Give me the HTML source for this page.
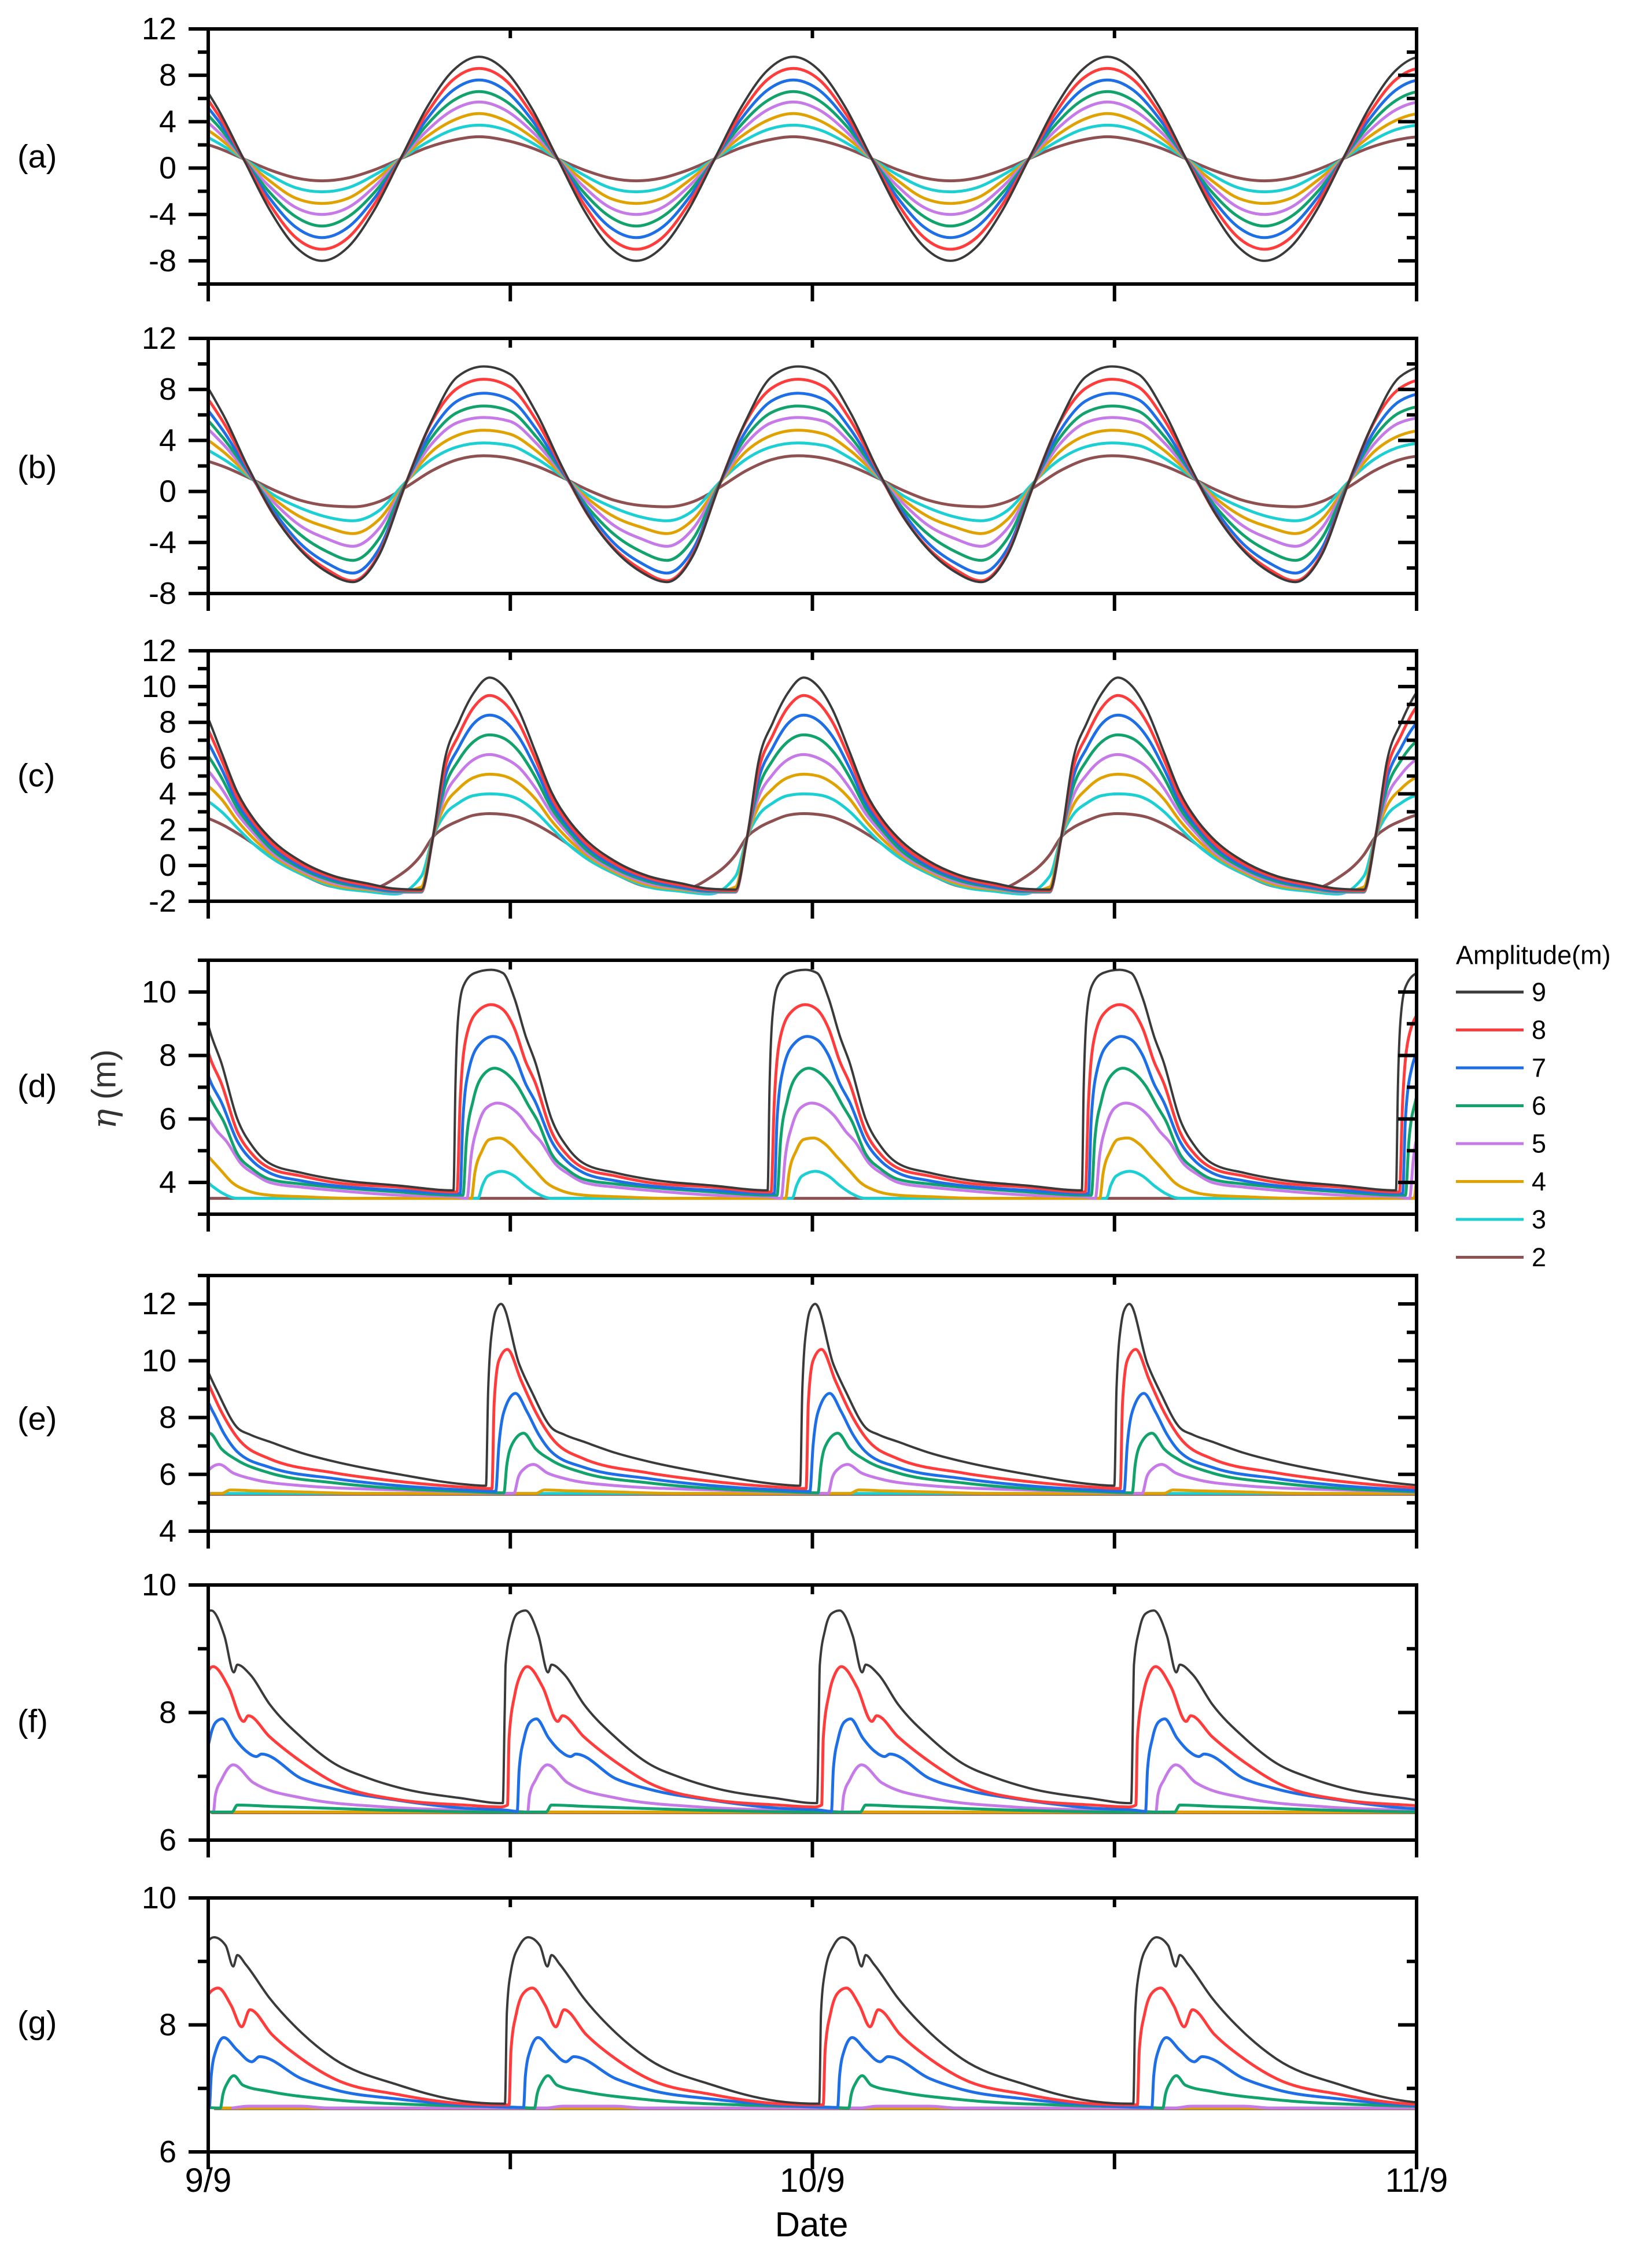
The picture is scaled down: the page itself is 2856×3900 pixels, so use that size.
<!DOCTYPE html>
<html><head><meta charset="utf-8">
<style>
html,body{margin:0;padding:0;background:#fff;}
svg{display:block;font-family:"Liberation Sans",Arial,sans-serif;}
</style></head>
<body>
<svg id="fig" xmlns="http://www.w3.org/2000/svg" width="2856" height="3900" viewBox="0 0 2856 3900">
<rect width="2856" height="3900" fill="#fff"/>
</svg>
<script>
// ---- shared data ----
const seriesNames = ["9","8","7","6","5","4","3","2"];
const seriesColors = ["#3a3a3a","#ff3c3c","#1e6fe6","#12a36c","#c57ae8","#e0a200","#1ccfd2","#8e5050"];
const xTickLabels = ["9/9","","10/9","","11/9"];
const xTickDays = [0,15,30,45,60];
const cycleDays = 15.6;
// anchor (day of first black-curve peak) per panel
const panelAnchors = [13.45,13.68,13.97,14.05,14.54,15.75,15.89];

// ---- panel (a) ----
const aPhase = [0,8.33,16.67,25,33.33,41.67,50,58.33,66.67,75,83.33,91.67];
const aValues = [
 [9.6,8.4,5.2,0.8,-3.6,-6.8,-8.0,-6.8,-3.6,0.8,5.2,8.4],
 [8.6,7.6,4.7,0.8,-3.1,-6.0,-7.0,-6.0,-3.1,0.8,4.7,7.6],
 [7.6,6.7,4.2,0.8,-2.6,-5.1,-6.0,-5.1,-2.6,0.8,4.2,6.7],
 [6.6,5.8,3.7,0.8,-2.1,-4.2,-5.0,-4.2,-2.1,0.8,3.7,5.8],
 [5.7,5.0,3.2,0.8,-1.6,-3.4,-4.0,-3.4,-1.6,0.8,3.2,5.0],
 [4.7,4.1,2.7,0.8,-1.1,-2.6,-3.05,-2.6,-1.1,0.8,2.7,4.1],
 [3.7,3.3,2.2,0.8,-0.6,-1.7,-2.05,-1.7,-0.6,0.8,2.2,3.3],
 [2.7,2.4,1.75,0.8,-0.15,-0.85,-1.1,-0.85,-0.15,0.8,1.75,2.4]
];
// ---- panel (b) ----
const bPhase = [0,8.33,16.67,25,33.33,41.67,50,58.33,66.67,75,83.33,91.67];
const bValues = [
 [9.8,9.2,6.2,1.9,-1.9,-4.6,-6.3,-7.1,-5.0,0.5,5.5,9.0],
 [8.8,8.2,5.6,1.8,-1.9,-4.5,-6.1,-7.0,-4.9,0.5,5.4,8.1],
 [7.7,7.2,4.9,1.6,-1.6,-4.1,-5.6,-6.4,-4.5,0.5,4.7,7.1],
 [6.7,6.3,4.3,1.5,-1.3,-3.4,-4.7,-5.4,-3.7,0.6,4.2,6.2],
 [5.8,5.5,3.8,1.4,-0.9,-2.7,-3.7,-4.3,-2.9,0.6,3.7,5.4],
 [4.8,4.5,3.2,1.3,-0.6,-2.0,-2.8,-3.3,-2.2,0.6,3.1,4.4],
 [3.8,3.6,2.6,1.2,-0.3,-1.3,-2.0,-2.3,-1.5,0.7,2.5,3.5],
 [2.8,2.6,2.0,1.1,0.1,-0.7,-1.1,-1.2,-0.8,0.3,1.6,2.5]
];
// ---- panel (c) ----
const cPhase = [0,4.6,9.2,14.7,19.7,24.9,30.0,40.3,50.6,61.0,70.0,78.3,82.0,85.6,90.2,94.8];
const cValues = [
 [10.5,10.0,8.7,6.3,4.1,2.6,1.55,0.2,-0.6,-1.0,-1.3,-1.35,1.6,5.8,8.0,9.6],
 [9.5,9.1,8.0,5.9,3.8,2.4,1.35,0.05,-0.7,-1.1,-1.35,-1.4,1.6,5.3,7.3,8.8],
 [8.4,8.1,7.2,5.4,3.5,2.2,1.2,-0.1,-0.8,-1.2,-1.4,-1.4,1.6,4.8,6.6,7.9],
 [7.3,7.1,6.4,4.9,3.2,2.0,1.0,-0.2,-0.9,-1.25,-1.45,-1.45,1.6,4.3,5.9,6.9],
 [6.2,6.0,5.5,4.3,2.9,1.8,0.85,-0.3,-1.0,-1.3,-1.5,-1.5,1.6,3.8,5.1,5.9],
 [5.1,5.0,4.6,3.7,2.5,1.5,0.7,-0.4,-1.1,-1.35,-1.5,-1.2,1.6,3.3,4.3,4.9],
 [4.0,3.95,3.7,3.0,2.1,1.2,0.5,-0.5,-1.2,-1.45,-1.6,-0.6,1.6,2.8,3.5,3.9],
 [2.9,2.85,2.7,2.3,1.8,1.2,0.5,-0.5,-1.2,-1.35,-0.7,0.6,1.6,2.1,2.5,2.8]
];
// ---- panel (d) ----
const dPhases = [
 [0,3.7,7.4,11.0,14.0,19.2,24.3,29.5,39.8,50.1,70.7,88.0,88.6,89.5,91.2,94.8],
 [0,3.7,7.4,11.0,14.0,19.2,24.3,29.5,39.8,50.1,70.7,88.0,89.1,90.1,92.1,95.8],
 [0.6,3.7,7.4,11.0,14.0,19.2,24.3,29.5,39.8,50.1,70.7,88.0,90.1,91.0,93.0,96.7],
 [1.1,4.6,8.3,12.0,14.7,19.2,24.3,29.5,39.8,50.1,70.7,88.0,91.0,92.1,94.3,97.6],
 [2.0,5.5,9.2,12.9,15.7,20.3,24.9,29.5,39.8,50.1,70.7,88.0,92.3,93.6,95.8,98.5],
 [2.6,6.4,10.1,13.8,17.5,22.1,29.5,39.8,55.2,93.7,94.8,97.1,99.4],
 [3.3,7.4,11.0,14.7,19.2,95.8,97.2,98.9],
 [0,50]
];
const dValues = [
 [10.7,10.6,9.8,8.6,7.8,6.0,5.1,4.6,4.3,4.1,3.9,3.75,7.0,9.2,10.2,10.6],
 [9.6,9.45,8.85,7.8,7.15,5.6,4.85,4.45,4.2,4.0,3.85,3.7,3.7,6.5,8.6,9.4],
 [8.6,8.5,8.0,7.1,6.55,5.3,4.65,4.3,4.05,3.9,3.75,3.65,3.65,6.0,7.6,8.4],
 [7.6,7.45,7.05,6.4,5.95,4.9,4.4,4.1,3.95,3.85,3.7,3.6,3.6,5.3,6.6,7.4],
 [6.5,6.4,6.1,5.6,5.3,4.6,4.25,4.0,3.85,3.75,3.6,3.55,3.5,4.8,5.8,6.35],
 [5.4,5.2,4.8,4.4,4.0,3.75,3.6,3.55,3.5,3.5,4.3,5.0,5.35],
 [4.35,4.2,3.9,3.65,3.5,3.5,3.9,4.2],
 [3.5,3.5]
];
// ---- panel (e) ----
const ePhases = [
 [-4.8,-4.1,-2.6,-1.1,0,5.7,9.8,16.0,20.1,26.3,36.6,47.0,67.6,88.4],
 [-2.9,-2.2,-0.7,2.0,6.4,11.0,16.0,26.3,47.0,67.6,88.4],
 [-1.7,-0.7,0.9,4.6,8.3,12.0,16.0,26.3,47.0,67.6,88.4],
 [0.9,1.8,3.7,7.2,11.0,16.0,26.3,47.0,67.6,88.4],
 [4.1,5.5,7.4,10.3,14.7,20.3,36.8,67.6,88.4],
 [11.0,13.8,22.1,36.8,55.2,92.1],
 [0,50],
 [0,50]
];
const eValues = [
 [5.6,9.0,11.3,11.9,12.0,9.9,8.9,7.65,7.4,7.15,6.75,6.45,6.0,5.65],
 [5.5,8.5,10.0,10.4,9.3,8.2,7.3,6.55,6.05,5.75,5.55],
 [5.4,7.0,8.2,8.85,8.2,7.4,6.8,6.25,5.85,5.6,5.45],
 [5.35,6.3,7.1,7.45,6.9,6.5,6.05,5.7,5.5,5.4],
 [5.33,5.9,6.2,6.35,6.05,5.85,5.6,5.45,5.38],
 [5.33,5.45,5.42,5.38,5.33,5.33],
 [5.33,5.33],
 [5.3,5.3]
];
// ---- panel (f) ----
const fPhases = [
 [-7.2,-6.6,-6.3,-4.6,-2.6,0,4.2,7.2,8.3,12.3,18.6,28.9,39.2,49.5,59.9,80.5,92.1],
 [-5.7,-5.2,-3.3,-1.5,0.6,5.5,10.3,11.8,18.6,28.9,39.2,59.9,80.5,92.1],
 [-2.6,-2.0,-0.4,1.5,3.5,7.4,11.0,14.4,16.0,28.9,39.2,59.9,80.5,93.9],
 [6.6,8.3,18.4,55.2,92.1],
 [0.7,1.3,3.3,7.0,13.4,28.9,55.2,80.5,97.6],
 [0,50],
 [0,50],
 [0,50]
];
const fValues = [
 [6.58,8.0,8.75,9.3,9.55,9.6,9.2,8.63,8.75,8.6,8.13,7.6,7.2,6.98,6.82,6.65,6.58],
 [6.55,7.6,8.3,8.6,8.72,8.4,7.86,7.95,7.62,7.22,6.9,6.63,6.55,6.52],
 [6.45,7.1,7.6,7.85,7.9,7.6,7.4,7.31,7.35,6.96,6.8,6.62,6.5,6.47],
 [6.44,6.55,6.53,6.47,6.44],
 [6.44,6.7,6.95,7.18,6.9,6.66,6.52,6.47,6.45],
 [6.44,6.44],
 [6.44,6.44],
 [6.43,6.43]
];
// ---- panel (g) ----
const gPhases = [
 [-7.4,-6.8,-5.5,-2.8,0,3.7,6.1,7.4,10.1,17.7,28.0,38.3,58.9,79.2,91.2],
 [-6.1,-5.5,-3.7,-1.5,1.3,5.5,8.8,11.4,18.4,28.0,38.3,58.9,79.2,92.1],
 [-1.5,-0.9,0.6,3.1,7.4,12.0,14.5,28.0,38.3,58.9,79.2,96.7],
 [2.0,2.8,4.4,6.3,9.2,17.7,38.3,73.7,97.6],
 [5.5,11.0,27.6,36.8,60],
 [0,50],
 [0,50],
 [0,50]
];
const gValues = [
 [6.76,8.2,8.85,9.25,9.38,9.25,8.92,9.1,8.95,8.42,7.87,7.46,7.05,6.8,6.76],
 [6.74,7.6,8.2,8.5,8.58,8.3,7.97,8.24,7.85,7.46,7.15,6.9,6.76,6.74],
 [6.7,7.2,7.6,7.8,7.6,7.42,7.5,7.15,6.98,6.83,6.74,6.7],
 [6.69,6.9,7.1,7.2,7.05,6.95,6.82,6.73,6.7],
 [6.69,6.72,6.72,6.69,6.69],
 [6.69,6.69],
 [6.69,6.69],
 [6.68,6.68]
];
// y-axis tick labels per panel
const aTicks = [12,8,4,0,-4,-8];
const bTicks = [12,8,4,0,-4,-8];
const cTicks = [12,10,8,6,4,2,0,-2];
const dTicks = [10,8,6,4];
const eTicks = [12,10,8,6,4];
const fTicks = [10,8,6];
const gTicks = [10,8,6];

// ---- layout (not data) ----
const NS = "http://www.w3.org/2000/svg";
const svg = document.getElementById("fig");
const X0 = 360, X1 = 2449, DAYS = 60;
const panels = [
 {id:"a", top:50,   bot:491,  ymin:-10, ymax:12, minor:2, ticks:aTicks, ph:aPhase, vals:aValues, labY:270},
 {id:"b", top:585,  bot:1026, ymin:-8,  ymax:12, minor:2, ticks:bTicks, ph:bPhase, vals:bValues, labY:807},
 {id:"c", top:1125, bot:1558, ymin:-2,  ymax:12, minor:1, ticks:cTicks, ph:cPhase, vals:cValues, labY:1340},
 {id:"d", top:1660, bot:2099, ymin:3,   ymax:11, minor:1, ticks:dTicks, ph:dPhases, vals:dValues, labY:1877},
 {id:"e", top:2205, bot:2647, ymin:4,   ymax:13, minor:1, ticks:eTicks, ph:ePhases, vals:eValues, labY:2452},
 {id:"f", top:2740, bot:3181, ymin:6,   ymax:10, minor:1, ticks:fTicks, ph:fPhases, vals:fValues, labY:2975},
 {id:"g", top:3281, bot:3720, ymin:6,   ymax:10, minor:1, ticks:gTicks, ph:gPhases, vals:gValues, labY:3496}
];
function xScale(day){ return X0 + (day/DAYS)*(X1-X0); }
function make(tag, attrs, parent){
  const el = document.createElementNS(NS, tag);
  for (const k in attrs) el.setAttribute(k, attrs[k]);
  (parent||svg).appendChild(el);
  return el;
}
function monoPath(pts){
  const n = pts.length; if(n<2) return "";
  const t = new Array(n).fill(0), s = [];
  for(let i=0;i<n-1;i++){ const h=pts[i+1][0]-pts[i][0]; s.push(h===0?0:(pts[i+1][1]-pts[i][1])/h); }
  for(let i=1;i<n-1;i++){
    const h0=pts[i][0]-pts[i-1][0], h1=pts[i+1][0]-pts[i][0];
    const s0=s[i-1], s1=s[i]; const p=(s0*h1+s1*h0)/(h0+h1);
    t[i]=(Math.sign(s0)+Math.sign(s1))*Math.min(Math.abs(s0),Math.abs(s1),0.5*Math.abs(p))||0;
  }
  t[0]=s[0]; t[n-1]=s[n-2];
  let d="M"+pts[0][0].toFixed(1)+","+pts[0][1].toFixed(1);
  for(let i=0;i<n-1;i++){
    const dx=(pts[i+1][0]-pts[i][0])/3;
    d+="C"+(pts[i][0]+dx).toFixed(1)+","+(pts[i][1]+t[i]*dx).toFixed(1)+" "+(pts[i+1][0]-dx).toFixed(1)+","+(pts[i+1][1]-t[i+1]*dx).toFixed(1)+" "+pts[i+1][0].toFixed(1)+","+pts[i+1][1].toFixed(1);
  }
  return d;
}
const defs = make("defs",{});

panels.forEach((P, pi) => {
  const yScale = v => P.bot - (v-P.ymin)/(P.ymax-P.ymin)*(P.bot-P.top);
  const g = make("g",{});
  
  
  const cp = make("clipPath",{id:"clip"+P.id}, defs);
  make("rect",{x:X0,y:P.top,width:X1-X0,height:P.bot-P.top}, cp);

  // series
  const sg = make("g",{"clip-path":"url(#clip"+P.id+")"}, g);
  
  
  for (let s=7; s>=0; s--){
    const ph = Array.isArray(P.ph[0]) ? P.ph[s] : P.ph;
    const vals = P.vals[s];
    const pts = [];
    for (let k=-2;k<=5;k++){
      for (let j=0;j<ph.length;j++){
        const day = panelAnchors[pi] + (k + ph[j]/100)*cycleDays;
        if (day < -4 || day > 64) continue;
        pts.push([xScale(day), yScale(vals[j])]);
      }
    }
    const path = make("path",{d:monoPath(pts), fill:"none", stroke:seriesColors[s], "stroke-width": s===0?4:5, "stroke-linejoin":"round"}, sg);
    
    
  }

  // frame
  const fr = make("rect",{x:X0,y:P.top,width:X1-X0,height:P.bot-P.top,fill:"none",stroke:"#000","stroke-width":6}, g);
  
  

  // y ticks (left outward, right inward)
  for (let v=Math.ceil(P.ymin/P.minor)*P.minor; v<=P.ymax+1e-9; v+=P.minor){
    const y = yScale(v);
    const major = P.ticks.indexOf(v) >= 0;
    make("line",{x1:X0-(major?34:18),x2:X0,y1:y,y2:y,stroke:"#000","stroke-width":6}, g);
    make("line",{x1:X1-(major?32:17),x2:X1,y1:y,y2:y,stroke:"#000","stroke-width":6}, g);
    if (major){
      const tl = make("text",{x:305,y:y,"text-anchor":"end","dominant-baseline":"central","font-size":54,fill:"#000"}, g);
      tl.textContent = String(v);
      
      
    }
  }
  // x ticks
  xTickDays.forEach(dy => {
    const x = xScale(dy);
    make("line",{x1:x,x2:x,y1:P.bot,y2:P.bot+30,stroke:"#000","stroke-width":6}, g);
    make("line",{x1:x,x2:x,y1:P.top,y2:P.top+16,stroke:"#000","stroke-width":6}, g);
  });
  // panel label
  const pl = make("text",{x:30,y:P.labY,"dominant-baseline":"central","font-size":56,fill:"#000"}, g);
  pl.textContent = "("+P.id+")";
  
  
});

// x tick labels under last panel
xTickDays.forEach((dy,i) => {
  if (!xTickLabels[i]) return;
  const t = make("text",{x:xScale(dy),y:3789,"text-anchor":"middle","font-size":58,fill:"#000"});
  t.textContent = xTickLabels[i];
  
  
});
const xt = make("text",{x:1403,y:3866,"text-anchor":"middle","font-size":60,fill:"#000"});
xt.textContent = "Date";



const yt = make("text",{x:0,y:0,"text-anchor":"middle","dominant-baseline":"central","font-size":58,fill:"#333",transform:"translate(180,1883) rotate(-90)"});
yt.innerHTML = '<tspan font-family="DejaVu Serif, serif" font-style="italic">η</tspan> (m)';



// legend
const lg = make("g",{});


const lt = make("text",{x:2517,y:1651,"dominant-baseline":"central","font-size":45,fill:"#000"}, lg);
lt.textContent = "Amplitude(m)";


seriesNames.forEach((nm,i) => {
  const y = 1715 + i*65.5;
  const e = make("g",{}, lg);
  
  
  make("line",{x1:2517,x2:2634,y1:y,y2:y,stroke:seriesColors[i],"stroke-width":5}, e);
  const tx = make("text",{x:2648,y:y,"dominant-baseline":"central","font-size":45,fill:"#000"}, e);
  tx.textContent = nm;
});
</script>
</body></html>
